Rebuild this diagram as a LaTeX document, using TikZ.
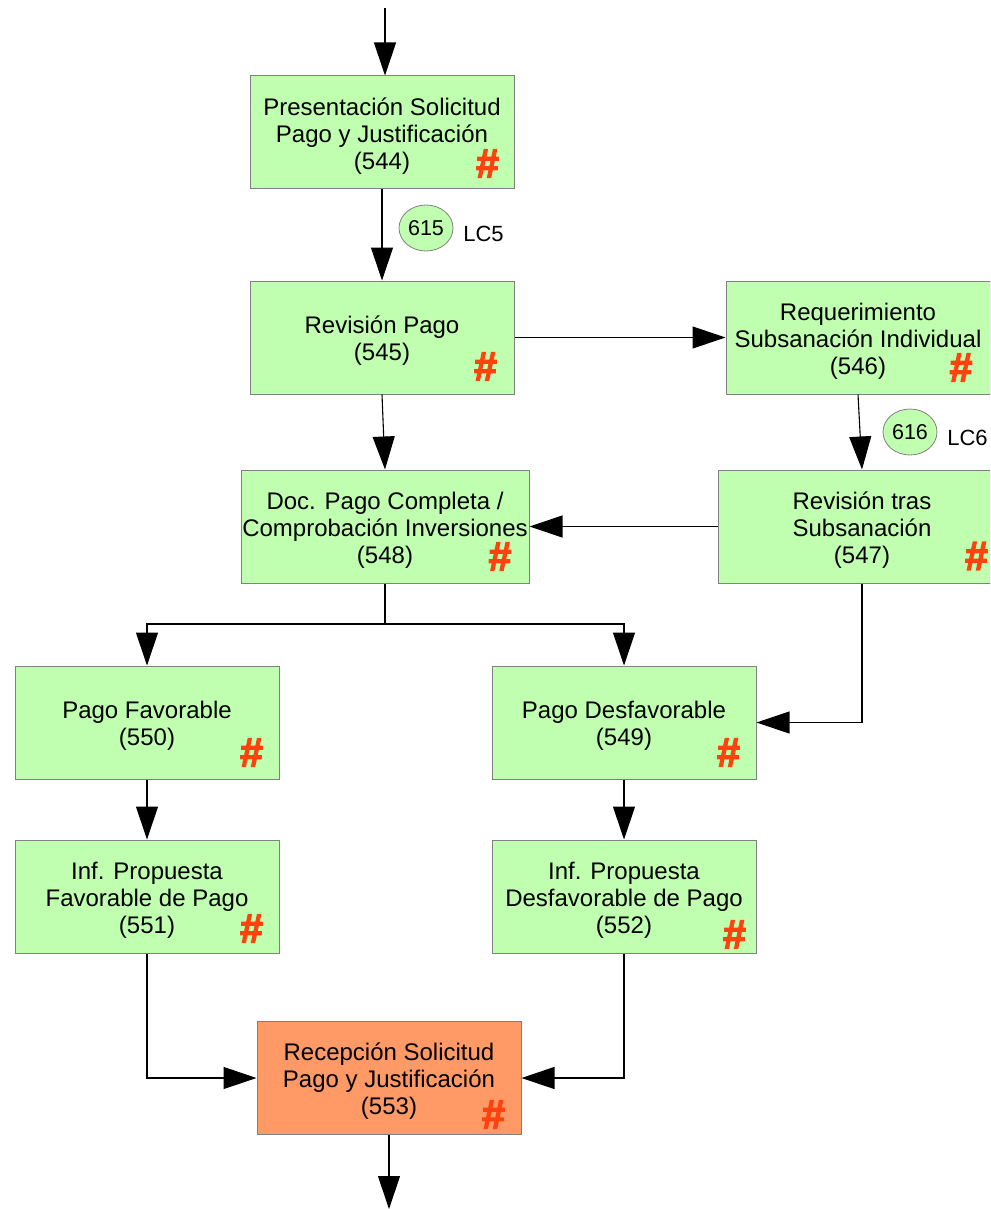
\documentclass[tikz,border=0pt]{standalone}
\usepackage{fontspec}
\setmainfont{Liberation Sans}
\newfontfamily\hashfont{Liberation Sans Bold}[FakeBold=3]
\usetikzlibrary{arrows.meta,shapes.geometric,calc}
\definecolor{boxgreen}{RGB}{192,255,176}
\definecolor{boxorange}{RGB}{255,153,102}
\definecolor{hashred}{RGB}{255,66,14}
\definecolor{bordergray}{RGB}{128,128,128}
\newcommand\procnode[4][procbox]{%
  \node[#1] (#2) at #3 {};
  \node[boxtext] (#2t) at ($(#2.center)+(0,3.5)$) {#4};}
\begin{document}
\begin{tikzpicture}[x=1pt,y=-1pt,
  procbox/.style={draw=bordergray, line width=1pt, fill=boxgreen, minimum width=264pt, minimum height=113pt, inner sep=0pt},
  widebox/.style={procbox, minimum width=288pt},
  endbox/.style={procbox, fill=boxorange},
  boxtext/.style={align=center, font=\fontsize{24}{27}\selectfont, inner sep=0pt},
  hash/.style={text=hashred, font=\hashfont\fontsize{41}{41}\selectfont, inner sep=0pt},
  oval/.style={ellipse, draw=bordergray, line width=0.8pt, fill=boxgreen, minimum width=54pt, minimum height=46pt, inner sep=0pt, font=\fontsize{21.5}{23}\selectfont},
  lab/.style={font=\fontsize{22}{24}\selectfont, inner sep=0pt},
  arr/.style={draw=black, line width=1.1pt, -{Triangle[length=33pt,width=22pt]}},
  plain/.style={draw=black, line width=1.1pt}
]
\useasboundingbox (0,0) rectangle (990,1209);
\begin{scope}
\clip (0,0) rectangle (990,1209);
% boxes
\procnode{b544}{(382,132.5)}{Presentación Solicitud\\Pago y Justificación\\(544)}
\procnode{b545}{(382,337.5)}{Revisión Pago\\(545)}
\procnode{b546}{(858,337.5)}{Requerimiento\\Subsanación Individual\\(546)}
\procnode[widebox]{b547}{(862,526.5)}{Revisión tras\\Subsanación\\(547)}
\procnode[widebox]{b548}{(385,526.5)}{Doc. Pago Completa /\\Comprobación Inversiones\\(548)}
\procnode{b550}{(147,722.5)}{Pago Favorable\\(550)}
\procnode{b549}{(624,722.5)}{Pago Desfavorable\\(549)}
\procnode{b551}{(147,896.5)}{Inf. Propuesta\\Favorable de Pago\\(551)}
\procnode{b552}{(624,896.5)}{Inf. Propuesta\\Desfavorable de Pago\\(552)}
\procnode[endbox]{b553}{(389,1078)}{Recepción Solicitud\\Pago y Justificación\\(553)}
% hash marks
\node[hash] (h544) at ($(b544.south east)+(-27,-26)$) {\#};
\node[hash] (h545) at ($(b545.south east)+(-29,-28)$) {\#};
\node[hash] (h546) at ($(b546.south east)+(-29.5,-27)$) {\#};
\node[hash] (h547) at ($(b547.south east)+(-30,-27.5)$) {\#};
\node[hash] (h548) at ($(b548.south east)+(-29.5,-27)$) {\#};
\node[hash] (h550) at ($(b550.south east)+(-28,-27)$) {\#};
\node[hash] (h549) at ($(b549.south east)+(-28,-27)$) {\#};
\node[hash] (h551) at ($(b551.south east)+(-28,-25)$) {\#};
\node[hash] (h552) at ($(b552.south east)+(-22,-19)$) {\#};
\node[hash] (h553) at ($(b553.south east)+(-28,-20.5)$) {\#};
% ovals
\node[oval] (e615) at (426,228) {615};
\node[lab] (l615) at (483.5,234) {LC5};
\node[oval] (e616) at (910,432) {616};
\node[lab] (l616) at (967.5,438) {LC6};
% coordinates
\coordinate (in) at (385,8);
\coordinate (out) at (389,1209);
\coordinate (split) at (385,624);
% connectors
\draw[arr] (in) -- (in |- b544.north);
\draw[arr] (b544.south) -- (b545.north);
\draw[arr] (b545.east) -- (b546.west);
\draw[arr] (b546.south) -- (b547.north);
\draw[arr] (b545.south) -- (b548.north);
\draw[arr] (b547.west) -- (b548.east);
\draw[plain] (b548.south) -- (split);
\draw[arr] (split) -| (b550.north);
\draw[arr] (split) -| (b549.north);
\draw[arr] (b547.south) |- (b549.east);
\draw[arr] (b550.south) -- (b551.north);
\draw[arr] (b549.south) -- (b552.north);
\draw[arr] (b551.south) |- (b553.west);
\draw[arr] (b552.south) |- (b553.east);
\draw[arr] (b553.south) -- (out);
\end{scope}
\end{tikzpicture}
\end{document}
